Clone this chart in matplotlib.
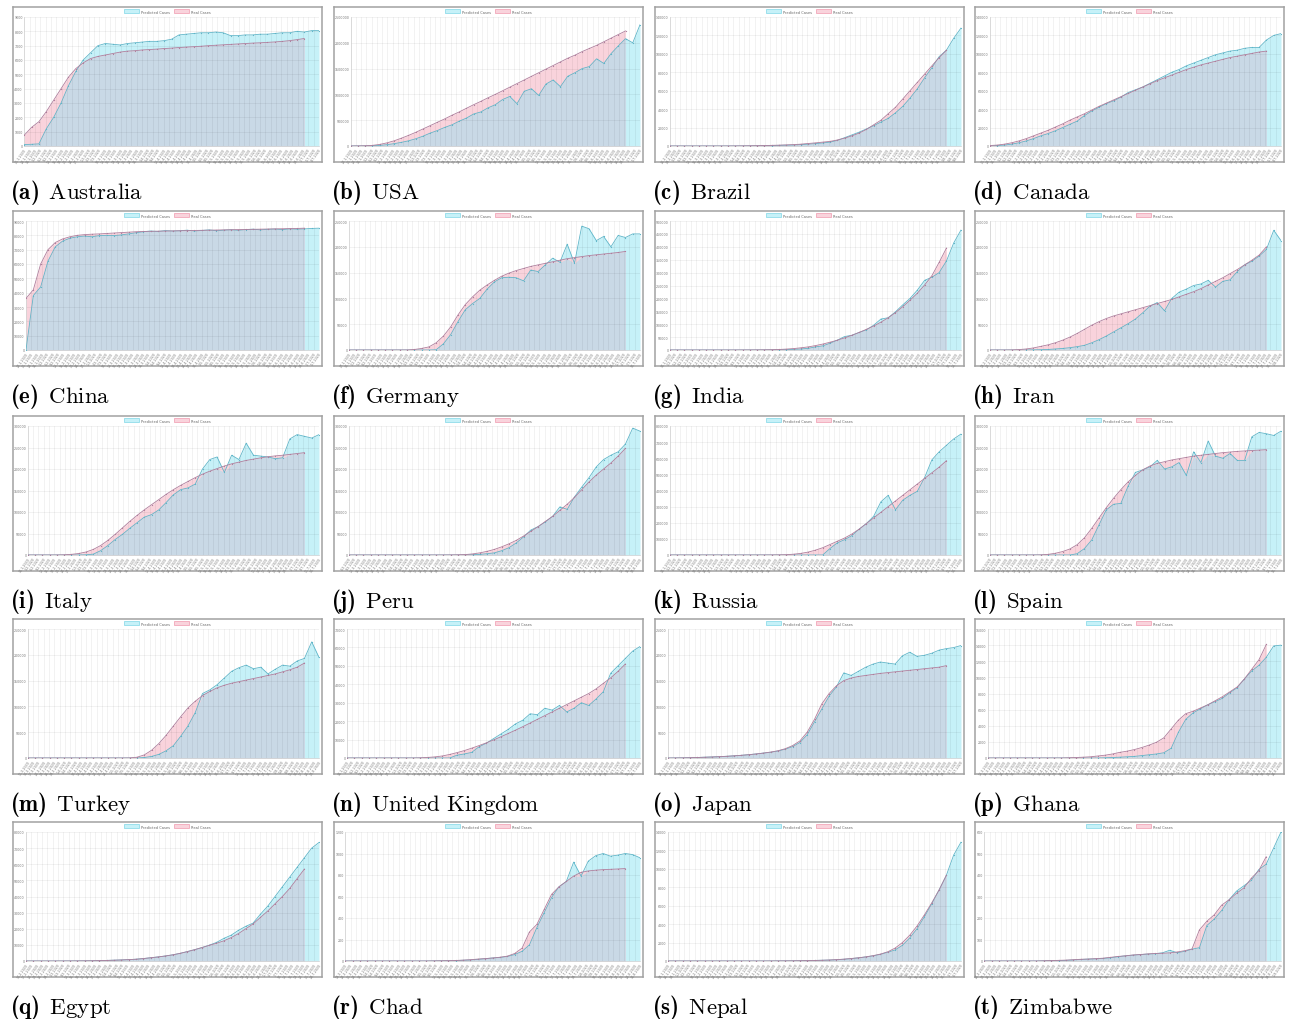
import numpy as np
import pandas as pd
import matplotlib
matplotlib.use("Agg")
import matplotlib.pyplot as plt
from matplotlib.patches import Patch

plt.rcParams["mathtext.fontset"] = "custom"
plt.rcParams["mathtext.rm"] = "cmr10"
plt.rcParams["mathtext.bf"] = "cmb10"
plt.rcParams["mathtext.it"] = "cmmi10"

countries = ["Australia", "USA", "Brazil", "Canada", "China", "Germany", "India", "Iran",
             "Italy", "Peru", "Russia", "Spain", "Turkey", "United Kingdom", "Japan", "Ghana",
             "Egypt", "Chad", "Nepal", "Zimbabwe"]
letters = "abcdefghijklmnopqrst"
y_max = [9000, 2500000, 140000, 140000, 90000, 250000, 500000, 250000, 300000, 300000,
         800000, 300000, 250000, 70000, 25000, 16000, 80000, 1200, 14000, 600]
y_step = [1000, 500000, 20000, 20000, 10000, 50000, 50000, 50000, 50000, 50000,
          100000, 50000, 50000, 10000, 5000, 2000, 10000, 200, 2000, 100]
start_dates = ["25-1-2020", "22-1-2020", "26-2-2020", "25-1-2020", "22-1-2020", "27-1-2020",
               "30-1-2020", "19-2-2020", "31-1-2020", "6-3-2020", "31-1-2020", "1-2-2020",
               "11-3-2020", "31-1-2020", "22-1-2020", "12-3-2020", "14-2-2020", "19-3-2020",
               "23-1-2020", "20-3-2020"]

# values sampled every 1/40 of the x range
australia_real = [750, 1300, 1700, 2400, 3200, 4000, 4800, 5400, 5800, 6100, 6250, 6350, 6450,
                  6550, 6620, 6650, 6700, 6730, 6760, 6800, 6830, 6870, 6900, 6930, 6960, 7000,
                  7030, 7060, 7090, 7120, 7150, 7180, 7200, 7230, 7260, 7300, 7350, 7420, 7500]
australia_pred = [100, 120, 150, 1200, 2000, 3000, 4200, 5200, 6000, 6500, 7000, 7150, 7100,
                  7050, 7150, 7200, 7250, 7300, 7300, 7350, 7450, 7750, 7800, 7850, 7900, 7900,
                  7950, 7900, 7700, 7700, 7750, 7750, 7800, 7800, 7850, 7900, 7900, 8000, 7950,
                  8050, 8050]
usa_real = [1000, 2000, 5000, 12000, 30000, 60000, 100000, 150000, 205000, 265000, 330000,
            395000, 460000, 525000, 595000, 660000, 730000, 800000, 865000, 935000, 1000000,
            1070000, 1140000, 1210000, 1280000, 1350000, 1420000, 1490000, 1560000, 1630000,
            1700000, 1760000, 1830000, 1890000, 1950000, 2020000, 2090000, 2160000, 2230000]
usa_pred = [1000, 1500, 3000, 6000, 12000, 25000, 45000, 70000, 100000, 140000, 190000, 250000,
            300000, 360000, 410000, 480000, 540000, 620000, 660000, 740000, 800000, 900000,
            960000, 820000, 1060000, 1110000, 980000, 1200000, 1280000, 1150000, 1350000,
            1420000, 1500000, 1540000, 1690000, 1600000, 1790000, 1940000, 2080000, 2000000,
            2350000]
brazil_real = [0, 0, 0, 0, 0, 0, 10, 20, 40, 80, 150, 250, 350, 500, 700, 900, 1200, 1500, 2000,
               2700, 3400, 4200, 5000, 6500, 8500, 11000, 14000, 18000, 23000, 28000, 35000,
               42000, 51000, 60000, 69000, 78000, 87000, 96000, 104000]
brazil_pred = [0, 0, 0, 0, 0, 0, 5, 10, 20, 40, 80, 150, 250, 350, 500, 700, 900, 1100, 1500,
               2000, 2600, 3300, 4200, 6000, 9000, 12000, 15000, 18500, 22000, 26000, 30000,
               36000, 43000, 52000, 62000, 74000, 85000, 97000, 104000, 117000, 128000]
canada_real = [500, 1000, 2000, 3500, 5500, 8000, 11000, 14000, 17000, 20500, 24000, 28000,
               31500, 35000, 39000, 43000, 46500, 50000, 53500, 57000, 60500, 64000, 67500,
               71000, 74000, 77000, 80000, 83000, 85500, 88000, 90000, 92000, 94000, 96000,
               97500, 99000, 100500, 102000, 103000]
canada_pred = [0, 500, 1000, 2000, 3500, 5500, 8000, 11000, 13500, 16500, 20000, 23500, 27000,
               33000, 38000, 42000, 46000, 49000, 53000, 58000, 61000, 64000, 68000, 72000,
               76000, 80000, 83000, 87000, 90000, 93000, 96000, 99000, 101000, 103000, 104000,
               106000, 107000, 107000, 115000, 120000, 122000]
china_real = [36000, 42000, 60000, 70000, 75000, 77500, 79000, 80000, 80500, 80800, 81000,
              81300, 81600, 81900, 82200, 82500, 82700, 82800, 82900, 83000, 83100, 83200,
              83300, 83400, 83500, 83600, 83700, 83800, 83900, 84000, 84100, 84200, 84300,
              84400, 84500, 84600, 84700, 84800, 85000]
china_pred = [0, 38000, 44000, 62000, 72000, 76000, 78000, 79000, 79500, 79000, 79800, 80000,
              79800, 80300, 81000, 81800, 82500, 83000, 82700, 83300, 83000, 83200, 83600,
              83000, 83400, 83800, 83200, 83600, 83900, 83500, 84000, 84300, 83800, 84200,
              84400, 84000, 84500, 84300, 84500, 84800, 85000]
germany_real = [0, 0, 0, 0, 0, 0, 0, 50, 100, 1000, 3000, 6000, 14000, 27000, 45000, 68000,
                88000, 103000, 116000, 126000, 135000, 143000, 149000, 154000, 158000, 162000,
                165000, 168000, 171000, 174000, 177000, 179000, 181000, 183000, 184500, 186000,
                187500, 189000, 191000]
germany_pred = [0, 0, 0, 0, 0, 0, 0, 0, 0, 0, 0, 0, 500, 12000, 30000, 55000, 78000, 90000,
                100000, 118000, 132000, 140000, 141000, 140000, 134000, 155000, 152000, 165000,
                178000, 170000, 205000, 168000, 240000, 235000, 212000, 220000, 200000, 222000,
                218000, 225000, 225000]
india_real = [0, 0, 0, 0, 0, 0, 0, 0, 50, 100, 200, 300, 500, 800, 1200, 2000, 3500, 5500, 8500,
              12000, 17000, 23000, 30000, 38000, 47000, 57000, 68000, 80000, 93000, 108000,
              125000, 145000, 168000, 193000, 220000, 252000, 288000, 340000, 395000]
india_pred = [0, 0, 0, 0, 0, 0, 0, 0, 0, 0, 50, 100, 200, 400, 700, 1000, 1500, 2500, 4000, 6500,
              12000, 16000, 26000, 38000, 52000, 57000, 68000, 78000, 96000, 120000, 125000,
              148000, 175000, 200000, 232000, 270000, 282000, 300000, 345000, 415000, 465000]
iran_real = [0, 0, 0, 200, 800, 2000, 4000, 7000, 10000, 14000, 19000, 25000, 32000, 40000,
             48000, 55000, 61000, 66000, 70000, 74000, 78000, 82000, 86000, 90000, 94000, 98000,
             103000, 108000, 113000, 119000, 126000, 133000, 140000, 148000, 156000, 165000,
             174000, 184000, 200000]
iran_pred = [0, 0, 0, 0, 0, 100, 300, 600, 1000, 2000, 3000, 4500, 6500, 9000, 14000, 20000,
             27000, 35000, 43000, 51000, 60000, 72000, 85000, 92000, 76000, 100000, 112000,
             118000, 125000, 128000, 135000, 122000, 133000, 136000, 152000, 165000, 172000,
             182000, 195000, 232000, 212000]
italy_real = [0, 0, 0, 0, 100, 500, 1500, 3500, 7000, 13000, 22000, 34000, 48000, 63000, 78000,
              92000, 105000, 117000, 129000, 141000, 152000, 162000, 171000, 180000, 188000,
              195000, 201000, 207000, 212000, 216000, 220000, 223000, 226000, 228500, 230500,
              232000, 234000, 236000, 238000]
italy_pred = [0, 0, 0, 0, 0, 0, 0, 100, 500, 2000, 10000, 22000, 36000, 48000, 62000, 75000,
              88000, 94000, 105000, 122000, 140000, 152000, 156000, 165000, 200000, 222000,
              228000, 192000, 232000, 222000, 260000, 232000, 230000, 228000, 224000, 226000,
              270000, 280000, 276000, 272000, 280000]
peru_real = [0, 0, 0, 0, 0, 0, 0, 0, 0, 0, 0, 0, 0, 50, 200, 500, 1000, 2500, 5000, 8500, 13000,
             19000, 26000, 34000, 44000, 55000, 66000, 78000, 90000, 104000, 118000, 134000,
             152000, 170000, 186000, 200000, 214000, 230000, 248000]
peru_pred = [0, 0, 0, 0, 0, 0, 0, 0, 0, 0, 0, 0, 0, 0, 50, 100, 300, 700, 1500, 3000, 5000,
             10000, 17000, 28000, 42000, 58000, 66000, 77000, 90000, 112000, 106000, 135000,
             158000, 180000, 205000, 222000, 232000, 240000, 258000, 295000, 288000]
russia_real = [0, 0, 0, 0, 0, 0, 0, 0, 0, 0, 0, 0, 50, 200, 500, 1000, 2000, 5000, 10000, 18000,
               30000, 45000, 65000, 85000, 105000, 130000, 160000, 195000, 230000, 265000,
               300000, 335000, 370000, 405000, 440000, 475000, 510000, 545000, 585000]
russia_pred = [0, 0, 0, 0, 0, 0, 0, 0, 0, 0, 0, 0, 0, 0, 0, 0, 0, 0, 0, 0, 0, 0, 40000, 75000,
               95000, 120000, 160000, 195000, 240000, 330000, 370000, 280000, 340000, 370000,
               395000, 480000, 590000, 640000, 680000, 720000, 750000]
spain_real = [0, 0, 0, 0, 0, 0, 50, 300, 1500, 4000, 8000, 14000, 24000, 40000, 62000, 86000,
              110000, 132000, 152000, 170000, 185000, 198000, 207000, 213000, 217000, 221000,
              224000, 227000, 230000, 232000, 234000, 236000, 238000, 239500, 241000, 242000,
              243000, 244000, 245000]
spain_pred = [0, 0, 0, 0, 0, 0, 0, 0, 0, 0, 0, 0, 3000, 15000, 35000, 70000, 105000, 118000,
              120000, 160000, 192000, 198000, 205000, 220000, 200000, 205000, 215000, 185000,
              240000, 215000, 265000, 230000, 225000, 236000, 220000, 220000, 275000, 285000,
              282000, 278000, 288000]
turkey_real = [0, 0, 0, 0, 0, 0, 0, 0, 0, 0, 0, 0, 0, 0, 200, 1500, 6000, 15000, 28000, 44000,
               62000, 80000, 97000, 110000, 121000, 129000, 136000, 141000, 145000, 148000,
               151000, 154000, 157000, 160000, 163000, 167000, 171000, 176000, 184000]
turkey_pred = [0, 0, 0, 0, 0, 0, 0, 0, 0, 0, 0, 0, 0, 0, 0, 0, 1000, 3000, 7000, 14000, 24000,
               42000, 62000, 88000, 125000, 132000, 142000, 155000, 168000, 175000, 180000,
               173000, 176000, 163000, 172000, 180000, 178000, 188000, 193000, 225000, 195000]
uk_real = [0, 0, 0, 0, 0, 0, 0, 0, 0, 0, 100, 300, 600, 1100, 1900, 2900, 4000, 5300, 6700,
           8200, 9800, 11500, 13300, 15100, 17000, 19000, 21000, 23000, 25000, 27000, 29000,
           31000, 33000, 35000, 37500, 40500, 43500, 47000, 51000]
uk_pred = [0, 0, 0, 0, 0, 0, 0, 0, 0, 0, 0, 0, 0, 0, 0, 1500, 2200, 3000, 6000, 8000, 10500,
           13000, 15500, 18500, 20500, 24000, 23500, 27000, 26000, 28500, 25000, 27000, 30000,
           28500, 32000, 36000, 46000, 50000, 54000, 58000, 60500]
japan_real = [0, 10, 30, 60, 100, 150, 200, 260, 330, 420, 520, 640, 780, 950, 1150, 1400, 1800,
              2400, 3300, 5000, 7500, 10500, 12500, 14000, 15000, 15500, 15800, 16000, 16200,
              16400, 16550, 16700, 16850, 17000, 17150, 17300, 17450, 17600, 17900]
japan_pred = [0, 10, 30, 60, 100, 150, 200, 260, 330, 420, 520, 640, 780, 950, 1100, 1350, 1700,
              2200, 3000, 4500, 7000, 9500, 12000, 13800, 16500, 16000, 16800, 17600, 18200,
              18600, 18400, 18200, 19800, 20500, 19700, 19900, 20300, 20900, 21200, 21400, 21800]
ghana_real = [0, 0, 0, 0, 0, 0, 0, 0, 0, 0, 0, 30, 60, 100, 150, 250, 350, 500, 700, 850, 1050,
              1300, 1600, 1950, 2500, 3600, 4700, 5500, 5800, 6200, 6600, 7100, 7600, 8200,
              8800, 9800, 11000, 12200, 14100]
ghana_pred = [0, 0, 0, 0, 0, 0, 0, 0, 0, 0, 0, 0, 0, 0, 0, 0, 30, 60, 100, 150, 200, 300, 400,
              500, 650, 1200, 3200, 4800, 5600, 6100, 6600, 7000, 7400, 8100, 8700, 9800, 10800,
              11500, 12500, 13900, 14000]
egypt_real = [0, 0, 0, 0, 0, 10, 30, 60, 100, 150, 250, 350, 500, 650, 850, 1100, 1500, 2000,
              2500, 3100, 3800, 4700, 5800, 7000, 8300, 9700, 11000, 12500, 14500, 17000, 20000,
              23000, 27000, 31000, 35500, 40000, 45000, 51000, 57000]
egypt_pred = [0, 0, 0, 0, 0, 10, 30, 60, 100, 150, 250, 350, 500, 650, 850, 1100, 1500, 2000,
              2500, 3100, 3800, 4700, 5800, 7000, 8300, 9800, 11500, 14000, 16000, 19000, 21500,
              23500, 29000, 34000, 40000, 46000, 52000, 58000, 64000, 70000, 73500]
chad_real = [0, 0, 0, 0, 0, 0, 0, 0, 0, 0, 0, 0, 1, 2, 3, 5, 8, 12, 18, 22, 28, 35, 45, 70, 120,
             270, 340, 480, 620, 690, 740, 790, 825, 838, 845, 850, 853, 856, 860]
chad_pred = [0, 0, 0, 0, 0, 0, 0, 0, 0, 0, 0, 0, 1, 2, 3, 4, 7, 10, 15, 22, 28, 33, 42, 60, 90,
             150, 310, 450, 590, 690, 740, 920, 790, 930, 980, 1000, 975, 985, 1000, 990, 960]
nepal_real = [0, 0, 0, 0, 0, 0, 0, 0, 0, 0, 0, 0, 0, 0, 5, 10, 15, 20, 30, 40, 60, 80, 110, 150,
              200, 270, 350, 450, 580, 750, 1000, 1400, 2000, 2800, 3800, 5000, 6300, 7700, 9300]
nepal_pred = [0, 0, 0, 0, 0, 0, 0, 0, 0, 0, 0, 0, 0, 0, 5, 10, 15, 20, 30, 40, 60, 80, 100, 140,
              190, 260, 340, 440, 560, 720, 950, 1200, 1700, 2500, 3500, 4800, 6200, 7700, 9300,
              11500, 12900]
zimbabwe_real = [0, 0, 0, 0, 0, 0, 0, 0, 1, 2, 3, 4, 6, 8, 9, 11, 13, 17, 21, 24, 28, 30, 33, 35,
                 36, 38, 42, 48, 56, 145, 185, 215, 260, 285, 315, 340, 385, 420, 485]
zimbabwe_pred = [0, 0, 0, 0, 0, 0, 0, 0, 1, 2, 2, 3, 5, 7, 9, 10, 12, 15, 20, 24, 27, 30, 32,
                 34, 38, 50, 38, 45, 55, 62, 165, 195, 235, 285, 325, 350, 375, 425, 450, 525, 600]

real = [australia_real, usa_real, brazil_real, canada_real, china_real, germany_real,
        india_real, iran_real, italy_real, peru_real, russia_real, spain_real, turkey_real,
        uk_real, japan_real, ghana_real, egypt_real, chad_real, nepal_real, zimbabwe_real]
predicted = [australia_pred, usa_pred, brazil_pred, canada_pred, china_pred, germany_pred,
             india_pred, iran_pred, italy_pred, peru_pred, russia_pred, spain_pred, turkey_pred,
             uk_pred, japan_pred, ghana_pred, egypt_pred, chad_pred, nepal_pred, zimbabwe_pred]

CYAN_FILL = "#c6f1f8"
PINK_FILL = "#f9d3dc"
BOTH_FILL = "#c9d9e6"
CYAN_LINE = "#5fb6c9"
PINK_LINE = "#b07e9c"

W, H = 1292, 1020
fig = plt.figure(figsize=(W / 100, H / 100), dpi=100)
col_left = [13, 334, 655, 975]
row_top = [8, 212, 417, 620, 823]
box_w, box_h = 309, 155
n_labels = 56


def px_axes(left, top, width, height):
    return fig.add_axes([left / W, 1 - (top + height) / H, width / W, height / H])


for k, name in enumerate(countries):
    r, c = divmod(k, 4)
    bl, bt = col_left[c], row_top[r]

    frame = px_axes(bl, bt, box_w, box_h)
    frame.set_xticks([])
    frame.set_yticks([])
    for s in frame.spines.values():
        s.set_color("#a2a2a2")
        s.set_linewidth(1.1)
    handles = [Patch(facecolor=CYAN_FILL, edgecolor="#7fd6e6", lw=0.5, label="Predicted Cases"),
               Patch(facecolor=PINK_FILL, edgecolor="#f09aae", lw=0.5, label="Real Cases")]
    frame.legend(handles=handles, loc="upper center", bbox_to_anchor=(0.5, 1.0), ncol=2,
                 fontsize=2.6, frameon=False, handlelength=4.2, handleheight=1.3,
                 columnspacing=1.2, handletextpad=0.5, borderaxespad=0.25, labelcolor="#666666")

    ndig = len(str(y_max[k]))
    off = 4 + 1.8 * ndig
    ax = px_axes(bl + off, bt + 10, box_w - off - 3, box_h - 26)

    pred = np.array(predicted[k], dtype=float)
    rl = np.array(real[k], dtype=float)
    xp = np.arange(len(pred))
    xr = np.arange(len(rl))
    ax.fill_between(xp, pred, color=CYAN_FILL, lw=0, zorder=1)
    ax.fill_between(xr, rl, color=PINK_FILL, lw=0, zorder=1)
    ax.fill_between(xr, np.minimum(pred[:len(rl)], rl), color=BOTH_FILL, lw=0, zorder=1)
    ax.plot(xp, pred, color=CYAN_LINE, lw=0.6, marker="o", ms=0.9, mew=0, zorder=3)
    ax.plot(xr, rl, color=PINK_LINE, lw=0.6, marker="o", ms=0.9, mew=0, zorder=4)

    ax.set_xlim(0, len(pred) - 1)
    ax.set_ylim(0, y_max[k])
    ax.set_yticks(np.arange(0, y_max[k] + y_step[k], y_step[k]))
    ax.set_yticklabels([str(v) for v in np.arange(0, y_max[k] + y_step[k], y_step[k])])

    dates = pd.date_range(pd.to_datetime(start_dates[k], format="%d-%m-%Y"),
                          periods=n_labels, freq="3D")
    ax.set_xticks(np.linspace(0, len(pred) - 1, n_labels))
    ax.set_xticklabels([f"{d.day}-{d.month}-{d.year}" for d in dates],
                       rotation=55, ha="right", rotation_mode="anchor")

    ax.tick_params(length=0, labelsize=2.3, labelcolor="#777777", pad=1)
    ax.grid(True, color="black", alpha=0.09, lw=0.4)
    ax.set_axisbelow("line")
    for s in ["top", "right"]:
        ax.spines[s].set_visible(False)
    for s in ["left", "bottom"]:
        ax.spines[s].set_color("#d0d0d0")
        ax.spines[s].set_linewidth(0.5)

    label = name.replace(" ", r"\ ")
    fig.text((bl - 3) / W, 1 - (bt + box_h + 36) / H,
             rf"$\mathbf{{({letters[k]})}}\ \,\mathrm{{{label}}}$",
             fontsize=16.5, va="baseline", ha="left")

fig.savefig("out.png", dpi=100)
